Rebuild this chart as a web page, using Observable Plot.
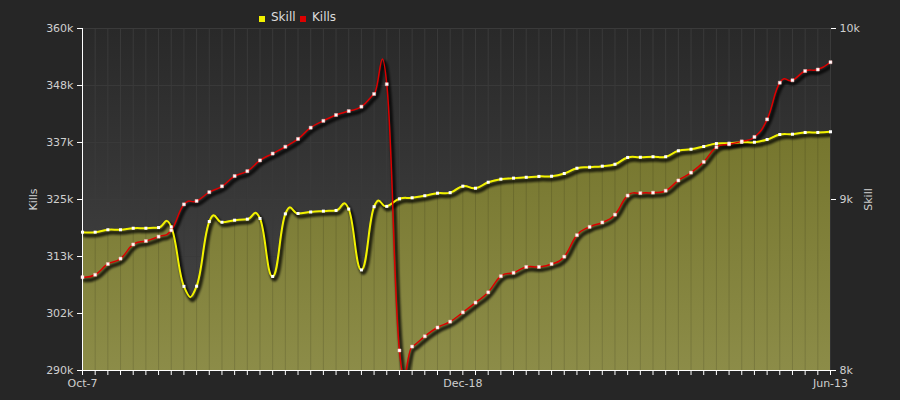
<!DOCTYPE html>
<html><head><meta charset="utf-8">
<script src="https://cdn.jsdelivr.net/npm/d3@7"></script>
<script src="https://cdn.jsdelivr.net/npm/@observablehq/plot@0.6"></script>
<style>
body{margin:0;background:#262626;width:900px;height:400px;overflow:hidden;font-family:"DejaVu Sans",sans-serif;position:relative;}
#legend{position:absolute;left:0;top:0;width:900px;height:24px;font-size:12px;color:#ddd;z-index:2;}
#legend .sq{position:absolute;width:6px;height:6px;top:16px;}
#legend .tx{position:absolute;top:10px;line-height:14px;}
#chart svg{display:block;}
</style></head>
<body>
<div id="legend"></div>
<div id="chart"></div>
<script>
// ---- data ----
const seriesNames = ["Skill", "Kills"];
const seriesColors = ["#f2f200", "#dd0000"];
const xTickIndex = [0, 30, 59];
const xTickLabels = ["Oct-7", "Dec-18", "Jun-13"];
// Kills, in thousands
const kills = [309.1, 309.6, 311.8, 312.9, 315.8, 316.5, 317.4, 318.7, 324.0, 324.7,
  326.5, 327.7, 329.8, 330.8, 333.0, 334.4, 335.8, 337.4, 339.7, 341.1,
  342.3, 343.1, 344.0, 346.6, 348.6, 294.1, 294.9, 297.0, 298.8, 300.0,
  301.9, 303.9, 306.0, 309.3, 310.0, 311.2, 311.2, 311.8, 313.3, 317.7,
  319.4, 320.3, 321.9, 325.8, 326.3, 326.4, 326.8, 328.9, 330.5, 332.7,
  335.7, 336.3, 336.9, 337.8, 341.4, 348.9, 349.4, 351.3, 351.6, 353.1];
const skill = [8809, 8809, 8823, 8823, 8832, 8832, 8836, 8840, 8492, 8493,
  8871, 8867, 8879, 8885, 8889, 8550, 8916, 8918, 8927, 8932,
  8936, 8944, 8588, 8958, 8960, 9004, 9010, 9022, 9037, 9040,
  9078, 9066, 9101, 9119, 9125, 9130, 9135, 9136, 9152, 9183,
  9189, 9195, 9206, 9246, 9247, 9250, 9250, 9285, 9294, 9310,
  9327, 9329, 9335, 9335, 9351, 9380, 9382, 9392, 9392, 9396];
const killsDomain = [290, 360];
const skillDomain = [8000, 10000];
const killsTicks = [290, 301.67, 313.33, 325, 336.67, 348.33, 360];
const skillTicks = [8000, 9000, 10000];
const skillTickLabels = ["8k", "9k", "10k"];

// ---- helpers ----
const toK = s => killsDomain[0] + (s - skillDomain[0]) / (skillDomain[1] - skillDomain[0]) * (killsDomain[1] - killsDomain[0]);
const rows = kills.map((k, i) => ({i, k, s: toK(skill[i])}));
const idx = rows.map(d => d.i);
const curve = d3.curveCardinal.tension(-0.4);

// legend
const lg = document.getElementById("legend");
const lx = [[259, 271], [300, 312]];
seriesNames.forEach((n, j) => {
  const sq = document.createElement("div");
  sq.className = "sq"; sq.style.left = lx[j][0] + "px"; sq.style.background = seriesColors[j];
  const tx = document.createElement("div");
  tx.className = "tx"; tx.style.left = lx[j][1] + "px"; tx.textContent = n;
  lg.append(sq, tx);
});

const NS = "http://www.w3.org/2000/svg";
function defs() {
  const d = document.createElementNS(NS, "defs");
  d.innerHTML = `
    <linearGradient id="bgGrad" gradientUnits="userSpaceOnUse" x1="0" y1="28" x2="0" y2="370">
      <stop offset="0" stop-color="#292929"/><stop offset="1" stop-color="#474747"/>
    </linearGradient>
    <linearGradient id="oliveGrad" gradientUnits="userSpaceOnUse" x1="0" y1="28" x2="0" y2="370">
      <stop offset="0" stop-color="#6c6c22"/><stop offset="1" stop-color="#8c8c48"/>
    </linearGradient>
    <filter id="shadowBlur" x="-5%" y="-5%" width="110%" height="110%">
      <feGaussianBlur stdDeviation="1.3"/>
    </filter>`;
  return d;
}

const plot = Plot.plot({
  width: 900,
  height: 400,
  marginTop: 28,
  marginBottom: 30,
  marginLeft: 82,
  marginRight: 70,
  style: {background: "transparent", fontFamily: "DejaVu Sans, sans-serif", fontSize: "11px"},
  x: {domain: [0, rows.length - 1], axis: null},
  y: {domain: killsDomain, axis: null},
  marks: [
    defs,
    Plot.frame({fill: "url(#bgGrad)", stroke: null}),
    Plot.ruleY(killsTicks, {stroke: "#3a3a3a", strokeWidth: 1}),
    Plot.ruleX(idx, {stroke: "#3a3a3a", strokeWidth: 1}),
    Plot.areaY(rows, {x: "i", y1: killsDomain[0], y2: "s", curve, fill: "url(#oliveGrad)", clip: true}),
    Plot.ruleX(rows, {x: "i", y1: killsDomain[0], y2: "s", stroke: "#000", strokeOpacity: 0.13}),
    Plot.lineY(rows, {x: "i", y: "s", curve, stroke: "#010101", strokeWidth: 4, strokeOpacity: 0.75, dx: 2, dy: 3, clip: true}),
    Plot.lineY(rows, {x: "i", y: "k", curve, stroke: "#010101", strokeWidth: 4, strokeOpacity: 0.75, dx: 2, dy: 3, clip: true}),
    Plot.lineY(rows, {x: "i", y: "s", curve, stroke: seriesColors[0], strokeWidth: 2, clip: true}),
    Plot.lineY(rows, {x: "i", y: "k", curve, stroke: seriesColors[1], strokeWidth: 1.5, clip: true}),
    Plot.dot(rows, {x: "i", y: "s", symbol: "square", r: 1.7, fill: "#fff", stroke: null}),
    Plot.dot(rows, {x: "i", y: "k", symbol: "square", r: 1.7, fill: "#fff", stroke: "#ffb0b0", strokeWidth: 0.5}),
    Plot.ruleY([killsDomain[0]], {stroke: "#fff"}),
    Plot.ruleX([0], {stroke: "#fff"}),
    Plot.axisY({ticks: killsTicks, tickFormat: v => Math.round(v) + "k", tickSize: 5, tickPadding: 4, stroke: "#fff", fill: "#cfcfcf", label: null}),
    Plot.axisY({anchor: "right", ticks: skillTicks.map(toK), tickFormat: (v, j) => skillTickLabels[j], tickSize: 5, tickPadding: 4, stroke: "#fff", fill: "#cfcfcf", label: null}),
    Plot.axisX({ticks: idx, tickFormat: i => { const j = xTickIndex.indexOf(i); return j < 0 ? "" : xTickLabels[j]; }, tickSize: 5, tickPadding: 4, stroke: "#fff", fill: "#cfcfcf", label: null}),
    Plot.text([seriesNames[1]], {frameAnchor: "left", dx: -49, rotate: -90, textAnchor: "middle", fill: "#cfcfcf", fontSize: 11}),
    Plot.text([seriesNames[0]], {frameAnchor: "right", dx: 38, rotate: -90, textAnchor: "middle", fill: "#cfcfcf", fontSize: 11})
  ]
});
plot.querySelectorAll('[stroke="#010101"]').forEach(g => g.setAttribute("filter", "url(#shadowBlur)"));
document.getElementById("chart").append(plot);
</script>
</body></html>
